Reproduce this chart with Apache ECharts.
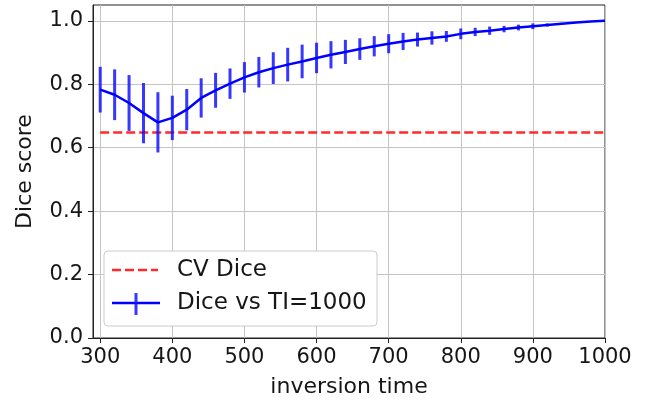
<!DOCTYPE html>
<html>
<head>
<meta charset="utf-8">
<script src="https://cdn.jsdelivr.net/npm/echarts@6/dist/echarts.min.js"></script>
<style>
  html, body { margin: 0; padding: 0; background: #fff; }
  #chart { width: 652px; height: 403px; }
</style>
</head>
<body>
<div id="chart"></div>
<script>
// inversion times (x) and mean Dice with std error bars
var tiValues = [300, 320, 340, 360, 380, 400, 420, 440, 460, 480, 500, 520,
                540, 560, 580, 600, 620, 640, 660, 680, 700, 720, 740, 760,
                780, 800, 820, 840, 860, 880, 900, 920, 940, 960, 980, 1000];
var diceMean = [0.783, 0.767, 0.741, 0.709, 0.680, 0.694, 0.720, 0.757, 0.781, 0.802, 0.822, 0.838,
                0.851, 0.862, 0.872, 0.883, 0.893, 0.902, 0.911, 0.920, 0.928, 0.935, 0.941, 0.946,
                0.951, 0.959, 0.965, 0.969, 0.974, 0.979, 0.983, 0.987, 0.991, 0.995, 0.998, 1.000];
var diceErr  = [0.072, 0.080, 0.088, 0.095, 0.095, 0.070, 0.065, 0.062, 0.055, 0.048, 0.048, 0.048,
                0.050, 0.053, 0.053, 0.048, 0.043, 0.038, 0.034, 0.032, 0.030, 0.027, 0.022, 0.021,
                0.017, 0.017, 0.013, 0.013, 0.010, 0.009, 0.009, 0.005, 0.003, 0.001, 0.000, 0.000];
var cvDice = 0.648;
var xTicks = [300, 400, 500, 600, 700, 800, 900, 1000];
var yTicks = [0, 0.2, 0.4, 0.6, 0.8, 1.0];

var FONT = 'DejaVu Sans';
var TXT = '#161616';

var lineData = tiValues.map(function (t, i) { return [t, diceMean[i]]; });
var errData = tiValues.map(function (t, i) { return [t, diceMean[i], diceErr[i]]; });
var cvData = [[tiValues[0], cvDice], [tiValues[tiValues.length - 1], cvDice]];

var chart = echarts.init(document.getElementById('chart'));
chart.setOption({
  animation: false,
  grid: {
    left: 93, right: 47, top: 5, bottom: 65,
    show: true, borderColor: '#222', borderWidth: 1,
    outerBoundsMode: 'none'
  },
  xAxis: {
    type: 'value', min: 290, max: 1000,
    name: 'inversion time', nameLocation: 'middle', nameGap: 38,
    nameTextStyle: { fontFamily: FONT, fontSize: 22, color: TXT },
    axisLine: { lineStyle: { color: '#222', width: 1 } },
    axisTick: { show: true, length: 5, customValues: xTicks, lineStyle: { color: '#222' } },
    axisLabel: {
      customValues: xTicks, margin: 9, fontFamily: FONT, fontSize: 21, color: TXT,
      formatter: function (v) { return String(v); }
    },
    splitLine: { show: true, lineStyle: { color: '#c4c4c4', width: 1 } }
  },
  yAxis: {
    type: 'value', min: 0, max: 1.05,
    name: 'Dice score', nameLocation: 'middle', nameGap: 57, nameRotate: 90,
    nameTextStyle: { fontFamily: FONT, fontSize: 22, color: TXT },
    axisLine: { show: true, lineStyle: { color: '#222', width: 1 } },
    axisTick: { show: true, length: 5, customValues: yTicks, lineStyle: { color: '#222' } },
    axisLabel: {
      customValues: yTicks, margin: 10, fontFamily: FONT, fontSize: 21, color: TXT,
      formatter: function (v) { return v.toFixed(1); }
    },
    splitLine: { show: true, lineStyle: { color: '#c4c4c4', width: 1 } }
  },
  series: [
    {
      name: 'CV Dice', type: 'line', data: cvData, symbol: 'none',
      lineStyle: { color: '#ff2a2a', width: 2.5, type: [9, 4] }, z: 3
    },
    {
      name: 'Dice vs TI=1000', type: 'line', data: lineData, symbol: 'none',
      lineStyle: { color: '#0000ff', width: 2.5 }, z: 4
    },
    {
      name: 'err', type: 'custom', data: errData, z: 4,
      renderItem: function (params, api) {
        var x = api.value(0), y = api.value(1), e = api.value(2);
        var lo = api.coord([x, y - e]);
        var hi = api.coord([x, y + e]);
        return {
          type: 'line',
          shape: { x1: lo[0], y1: lo[1], x2: hi[0], y2: hi[1] },
          style: { stroke: 'rgba(20,20,255,0.85)', lineWidth: 3 }
        };
      }
    }
  ],
  // legend box, drawn on top like matplotlib's
  graphic: [
    { type: 'rect', z: 100, shape: { x: 104, y: 251, width: 273, height: 75, r: 4 },
      style: { fill: '#fff', stroke: '#cccccc', lineWidth: 1 } },
    { type: 'line', z: 101, shape: { x1: 112, y1: 270, x2: 158, y2: 270 },
      style: { stroke: '#ff2a2a', lineWidth: 2.5, lineDash: [9, 4] } },
    { type: 'line', z: 101, shape: { x1: 112, y1: 303, x2: 160, y2: 303 },
      style: { stroke: '#0000ff', lineWidth: 2.5 } },
    { type: 'line', z: 101, shape: { x1: 136, y1: 293, x2: 136, y2: 315 },
      style: { stroke: 'rgba(20,20,255,0.85)', lineWidth: 3 } },
    { type: 'text', z: 101, x: 177, y: 270,
      style: { text: 'CV Dice', font: '23px "DejaVu Sans"', fill: TXT, verticalAlign: 'middle' } },
    { type: 'text', z: 101, x: 177, y: 303,
      style: { text: 'Dice vs TI=1000', font: '23px "DejaVu Sans"', fill: TXT, verticalAlign: 'middle' } }
  ]
});
</script>
</body>
</html>
